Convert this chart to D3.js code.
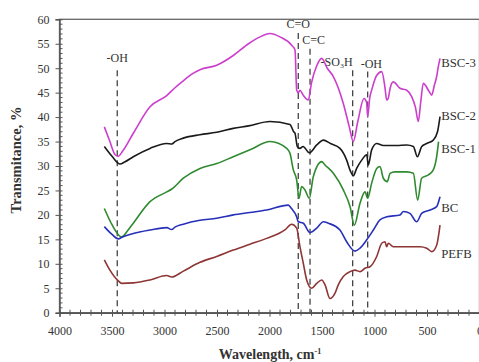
<!DOCTYPE html>
<html><head><meta charset="utf-8">
<script src="https://cdn.jsdelivr.net/npm/d3@7"></script>
<style>body{margin:0;background:#fff}svg{display:block}text{font-family:"Liberation Serif","Times New Roman",serif;fill:#333}</style>
</head><body><svg id="c" width="479" height="362"></svg>
<script>
const xTicks=[4000,3500,3000,2500,2000,1500,1000,500,0];
const yTicks=[0,5,10,15,20,25,30,35,40,45,50,55,60];

const bsc3Wn=[3573,3520,3470,3440,3400,3297,3138,2979,2900,2821,2740,2662,2503,2345,2200,2100,1995,1900,1789,1757,1741,1725,1710,1680,1630,1600,1550,1503,1450,1392,1297,1240,1202,1160,1100,1075,1065,1045,1027,980,931,900,884,870,850,821,757,693,646,610,583,560,535,487,455,430,408,395,376];
const bsc3T=[38.0,35,32.3,32.0,33,36.7,42.1,44.4,46,47.4,48.8,49.7,50.6,52.6,55,56.3,57.1,56.4,54.7,53.7,45.5,45,45.5,44.5,43.5,47,50.5,52.0,50,48.3,42.8,38,35.0,39,43.8,43,40.1,44,45.5,48.5,49.3,46,43.5,43.8,46,47.2,45.9,45.5,44.2,42,39.1,43,46.9,45.5,44.5,46.5,48.3,50,52.0];

const bsc2Wn=[3573,3500,3424,3380,3297,3138,2979,2930,2900,2821,2662,2503,2345,2200,1995,1805,1770,1757,1735,1710,1680,1621,1550,1487,1420,1329,1265,1230,1202,1170,1122,1074,1059,1027,979,916,790,693,630,592,550,503,440,400,376];
const bsc2T=[34.0,32,30.4,30.8,31.9,33.6,34.6,34.5,35.0,35.7,36.4,36.9,37.7,38.2,39.1,38.5,37,36.7,34.0,33.6,34,32.7,34.3,35.3,34.6,33.6,31.2,29,28.0,29.5,31.2,32.3,30.2,33.3,34.6,34.2,34.2,34.3,34.0,31.9,34,34.6,35.3,37.0,40.1];

const bsc1Wn=[3573,3500,3408,3350,3297,3138,2979,2930,2821,2662,2503,2345,2186,1995,1836,1805,1773,1741,1719,1694,1662,1621,1583,1503,1471,1392,1297,1233,1192,1138,1090,1065,1027,979,948,916,878,852,805,693,630,589,551,487,440,408,390];
const bsc1T=[21.3,18,15.5,16.8,18.3,22.7,24.7,25.3,27.5,29.5,30.5,31.9,33.3,35.0,33.6,32.6,29.2,27.1,23.4,25.8,25.1,23.4,27.8,30.9,30.2,28.5,25.1,21.7,17.9,22.4,24.7,23.4,26.5,29.5,29.9,27.5,26.8,28.5,28.8,28.8,28.5,23.0,27.5,28.2,29.2,31.9,35];

const bcWn=[3573,3500,3440,3400,3297,3138,2979,2932,2900,2821,2662,2503,2345,2186,2027,1821,1790,1741,1726,1678,1614,1550,1487,1440,1329,1265,1186,1138,1074,1011,948,884,757,725,662,598,551,471,408,376];
const bcT=[17.6,16,15.1,15.5,16.2,16.9,17.4,17.0,17.5,18.1,18.9,19.3,20.0,20.5,21.0,22.0,21.3,19.6,18.6,18.3,16.4,17.3,18.6,18.3,16.9,14.5,12.6,13.2,14.9,16.9,19.0,19.6,20.0,20.7,20.3,18.6,20.3,21.0,21.7,23.7];

const pefbWn=[3573,3520,3440,3408,3297,3138,2979,2932,2821,2662,2503,2345,2186,2027,1850,1789,1741,1710,1678,1646,1598,1550,1503,1471,1424,1376,1345,1297,1233,1186,1138,1090,1043,979,931,900,884,868,821,693,566,503,455,408,376];
const pefbT=[10.8,8.7,6.5,6.0,6.1,6.7,7.6,7.3,8.5,10.3,11.5,12.8,14.0,15.2,17,18.1,17.3,13.5,10.1,6.7,5.0,6.0,6.7,5.7,2.9,4.0,5.7,7.4,8.4,8.7,8.4,9.1,9.4,11.5,14.2,14.5,13.5,14.2,13.5,13.5,13.5,13.2,12.5,13.8,17.9];

const seriesNames=["BSC-3","BSC-2","BSC-1","BC","PEFB"];
const seriesColors=["#cc3fcc","#1a1a1a","#2f8a2f","#2630b8","#8e3535"];
const seriesWn=[bsc3Wn,bsc2Wn,bsc1Wn,bcWn,pefbWn];
const seriesT=[bsc3T,bsc2T,bsc1T,bcT,pefbT];
const labelT=[50.2,39.5,32.6,20.6,11.2];

const peakLabels=["-OH","C=O","C=C","-SO\u2083H","-OH"];
const peakWn=[3450,1726,1614,1208,1065];
const peakTop=[49.6,57.2,54.0,49.6,49.3];
const peakLabelT=[51.2,58.2,54.9,50.5,50.0];
const peakLabelWn=[3450,1726,1580,1360,1030];

const svg=d3.select("#c");
const x=d3.scaleLinear().domain([4000,0]).range([59.5,479.5]);
const y=d3.scaleLinear().domain([0,60]).range([312.7,19.3]);

svg.append("rect").attr("x",x(4000)).attr("y",y(60)).attr("width",x(0)-x(4000)).attr("height",y(0)-y(60))
  .attr("fill","none").attr("stroke","#666").attr("stroke-width",1.3);

const g=svg.append("g").attr("stroke","#555").attr("stroke-width",1);
d3.range(0,61,1).forEach(v=>{ if(v%5) g.append("line").attr("x1",x(4000)).attr("x2",x(4000)+3).attr("y1",y(v)).attr("y2",y(v)); });
d3.range(0,4001,100).forEach(w=>{ if(w%500) g.append("line").attr("x1",x(w)).attr("x2",x(w)).attr("y1",y(0)-3).attr("y2",y(0)+3); });

const xAxis=svg.append("g").attr("transform",`translate(0,${y(0)})`)
  .call(d3.axisBottom(x).tickValues(xTicks).tickSize(4).tickPadding(10).tickFormat(d3.format("d")));
const yAxis=svg.append("g").attr("transform",`translate(${x(4000)},0)`)
  .call(d3.axisLeft(y).tickValues(yTicks).tickSize(4).tickPadding(6));
[xAxis,yAxis].forEach(a=>{
  a.select(".domain").attr("stroke","#555").attr("stroke-width",1.4);
  a.selectAll(".tick line").attr("stroke","#555");
  a.selectAll("text").attr("font-size",12).attr("fill","#444").attr("font-family",'"Liberation Serif",serif');
});
xAxis.selectAll(".tick line").attr("y1",-3);
yAxis.selectAll(".tick line").attr("x2",-4).attr("x1",3);

peakWn.forEach((w,i)=>{
  svg.append("line").attr("x1",x(w)).attr("x2",x(w)).attr("y1",y(peakTop[i])).attr("y2",y(0))
    .attr("stroke","#444").attr("stroke-width",1.3).attr("stroke-dasharray","6,4");
  svg.append("text").attr("x",x(peakLabelWn[i])).attr("y",y(peakLabelT[i])).attr("text-anchor","middle")
    .attr("font-size",12).text(peakLabels[i]);
});

const line=d3.line().x(d=>x(d[0])).y(d=>y(d[1])).curve(d3.curveMonotoneX);
seriesNames.forEach((n,i)=>{
  const pts=seriesWn[i].map((w,j)=>[w,seriesT[i][j]]).sort((a,b)=>b[0]-a[0]);
  svg.append("path").attr("d",line(pts)).attr("fill","none").attr("stroke",seriesColors[i]).attr("stroke-width",1.6);
  svg.append("text").attr("x",x(365)).attr("y",y(labelT[i])).attr("font-size",12.8).text(n);
});

svg.append("text").attr("x",270).attr("y",359).attr("text-anchor","middle").attr("font-size",14).attr("font-weight","bold")
  .html('Wavelength, cm<tspan dy="-5" font-size="8">-1</tspan>');
svg.append("text").attr("transform","translate(21,160) rotate(-90)").attr("text-anchor","middle").attr("font-size",14.5)
  .attr("font-weight","bold").text("Transmitance, %");
</script></body></html>
